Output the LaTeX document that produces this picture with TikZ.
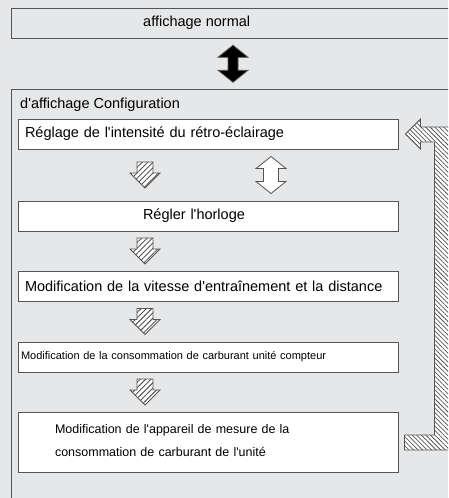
\documentclass[tikz,border=0pt]{standalone}
\usepackage{fontspec}
\setmainfont{Liberation Sans}
\newfontfamily\arialf{Liberation Sans}
\usetikzlibrary{patterns.meta,calc}
\definecolor{bg}{HTML}{E6E7E9}
\definecolor{ln}{HTML}{555555}
\tikzset{
  stepbox/.style={draw=ln, line width=1pt, fill=white, minimum width=380pt, minimum height=30pt,
    text width=366pt, inner sep=0pt, align=left, font=\arialf\fontsize{14.5}{17}\selectfont},
  hatchfill/.style={fill=white, draw=ln, line width=0.8pt,
    postaction={pattern={Lines[angle=45,distance=3.8pt,line width=0.9pt]}, pattern color=ln}},
  hatchfillb/.style={fill=white, draw=ln, line width=0.8pt,
    postaction={pattern={Lines[angle=-45,distance=3.2pt,line width=0.75pt]}, pattern color=ln}},
  pics/downarrow/.style={code={
    \draw[hatchfill] (-8,-13) -- (8,-13) -- (8,-2) -- (15,-2) -- (0,13) -- (-15,-2) -- (-8,-2) -- cycle;}},
  pics/dblarrow/.style 2 args={code={
    \draw[draw=ln, line width=0.8pt, fill=#1] (0,-18.5) -- (15,-6.5) -- (#2,-6.5) -- (#2,6.5) -- (15,6.5) -- (0,18.5)
      -- (-15,6.5) -- (-#2,6.5) -- (-#2,-6.5) -- (-15,-6.5) -- cycle;}},
}
\begin{document}
\begin{tikzpicture}[x=1pt,y=-1pt]
\useasboundingbox (0,0) rectangle (448,498);
\clip (0,0) rectangle (448,498);
\fill[bg] (0,0) rectangle (448,498);
% top box
\node[draw=ln, line width=1pt, fill=bg, minimum width=450pt, minimum height=30pt, inner sep=0pt, anchor=north west] (top) at (11,7.5) {};
\node[font=\arialf\fontsize{14.5}{17}\selectfont, anchor=west, inner sep=0pt] (toptext) at (143,22.5) {affichage normal};
% container
\coordinate (cbl) at (11,510);
\coordinate (ctr) at (460,89);
\coordinate (ctop) at (233,89);
\draw[draw=ln, line width=1pt] (cbl) |- (ctr);
\node[font=\arialf\fontsize{14.5}{17}\selectfont, anchor=west, inner sep=0pt] (ctitle) at (20,105) {d'affichage Configuration};
% boxes
\node[stepbox] (b1) at (208,134) {Réglage de l'intensité du rétro-éclairage};
\node[stepbox] (b2) at (208,216) {\hspace*{118pt}Régler l'horloge};
\node[stepbox] (b3) at (208,286) {Modification de la vitesse d'entraînement et la distance};
\node[stepbox, text width=374pt, font=\arialf\fontsize{11}{13}\selectfont] (b4) at (208,357) {Modification de la consommation de carburant unité compteur};
\node[stepbox, minimum height=60pt, font=\arialf\fontsize{12.5}{15}\selectfont] (b5) at (208,442) {\hspace*{30pt}\begin{tabular}{@{}l@{}}Modification de l'appareil de mesure de la\\[8pt]consommation de carburant de l'unité\end{tabular}};
% arrows
\pic at ($(top.south -| ctop)!0.5!(ctop)$) {dblarrow={black}{5}};
\pic at ($(b1.south -| 145,0)!0.5!(b2.north -| 145,0)$) {downarrow};
\pic at ($(b1.south -| 271,0)!0.5!(b2.north -| 271,0)$) {dblarrow={white}{7.5}};
\pic at ($(b2.south -| 145,0)!0.5!(b3.north -| 145,0)$) {downarrow};
\pic at ($(b3.south -| 145,0)!0.5!(b4.north -| 145,0)$) {downarrow};
\pic at ($(b4.south -| 145,0)!0.5!(b5.north -| 145,0)$) {downarrow};
% return arrow
\coordinate (rt) at ($(b1.east)+(7,0)$);
\coordinate (rf) at ($(b5.east -| rt)+(-1,0)$);
\draw[hatchfillb] (rt) -- ++(15,-15) -- ++(0,8) -- ++(40,0) |- ($(rf)+(0,8)$) -- ++(0,-15) -- ++(30,0)
  -- ($(rt)+(29,8)$) -- ++(-14,0) -- ++(0,7) -- cycle;
\end{tikzpicture}
\end{document}
